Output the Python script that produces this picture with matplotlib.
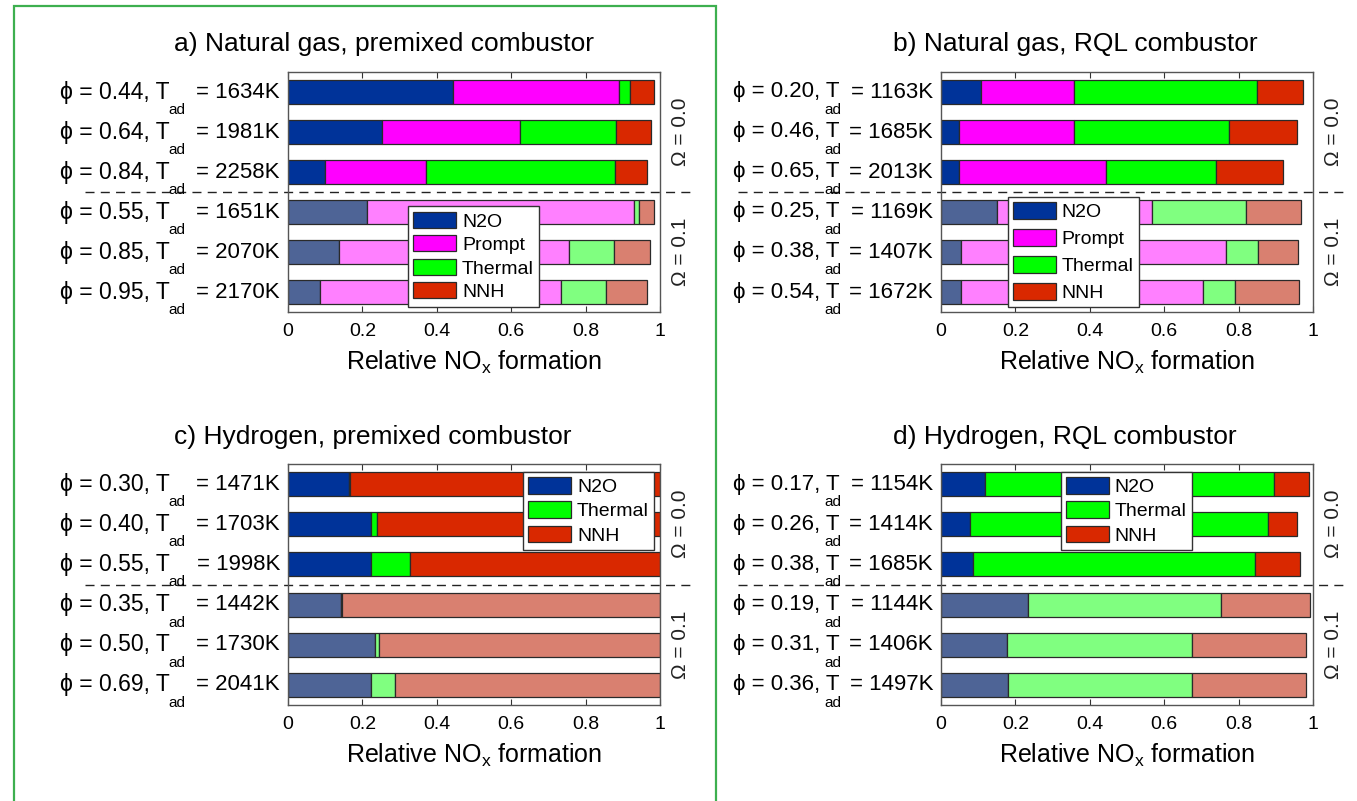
import matplotlib
matplotlib.use('Agg')
import matplotlib.pyplot as plt
from matplotlib.patches import Rectangle, Patch

plt.rcParams['font.family'] = ['Liberation Sans', 'DejaVu Sans']

# ---------------- data ----------------
titles = ['a) Natural gas, premixed combustor', 'b) Natural gas, RQL combustor',
          'c) Hydrogen, premixed combustor', 'd) Hydrogen, RQL combustor']

phi_a = ['0.44', '0.64', '0.84', '0.55', '0.85', '0.95']
tad_a = [1634, 1981, 2258, 1651, 2070, 2170]
phi_b = ['0.20', '0.46', '0.65', '0.25', '0.38', '0.54']
tad_b = [1163, 1685, 2013, 1169, 1407, 1672]
phi_c = ['0.30', '0.40', '0.55', '0.35', '0.50', '0.69']
tad_c = [1471, 1703, 1998, 1442, 1730, 2041]
phi_d = ['0.17', '0.26', '0.38', '0.19', '0.31', '0.36']
tad_d = [1154, 1414, 1685, 1144, 1406, 1497]

n2o_a = [0.443, 0.254, 0.100, 0.212, 0.137, 0.085]
prompt_a = [0.446, 0.370, 0.270, 0.719, 0.618, 0.650]
thermal_a = [0.030, 0.258, 0.509, 0.012, 0.122, 0.121]
nnh_a = [0.064, 0.095, 0.085, 0.040, 0.097, 0.109]

n2o_b = [0.108, 0.048, 0.048, 0.151, 0.055, 0.055]
prompt_b = [0.249, 0.309, 0.396, 0.416, 0.711, 0.648]
thermal_b = [0.492, 0.416, 0.294, 0.253, 0.086, 0.088]
nnh_b = [0.123, 0.183, 0.181, 0.149, 0.108, 0.171]

n2o_c = [0.164, 0.224, 0.224, 0.143, 0.235, 0.222]
thermal_c = [0.002, 0.014, 0.105, 0.003, 0.009, 0.065]
nnh_c = [0.834, 0.762, 0.671, 0.854, 0.756, 0.713]

n2o_d = [0.118, 0.079, 0.087, 0.233, 0.177, 0.179]
thermal_d = [0.776, 0.799, 0.758, 0.520, 0.497, 0.495]
nnh_d = [0.096, 0.079, 0.121, 0.239, 0.307, 0.308]

omega_labels = ['\u03a9 = 0.0', '\u03a9 = 0.1']
xticks = [0, 0.2, 0.4, 0.6, 0.8, 1]
xtick_labels = ['0', '0.2', '0.4', '0.6', '0.8', '1']

# ---------------- styles ----------------
dark = {'N2O': '#003399', 'Prompt': '#ff00ff', 'Thermal': '#00ff00', 'NNH': '#d92800'}
light = {'N2O': '#4e6496', 'Prompt': '#ff80ff', 'Thermal': '#80ff80', 'NNH': '#d98070'}

W, H = 1357, 801
fig = plt.figure(figsize=(W / 100, H / 100), dpi=100)


def make_ax(x0, x1, y0, y1):
    return fig.add_axes([x0 / W, 1 - y1 / H, (x1 - x0) / W, (y1 - y0) / H])


panels = [
    dict(box=(288, 660, 72, 312), title=titles[0], tx=174, ty=44, phi=phi_a, tad=tad_a,
         series=[('N2O', n2o_a), ('Prompt', prompt_a), ('Thermal', thermal_a), ('NNH', nnh_a)],
         leg=dict(loc='upper left', anchor=(0.3226, 0.44), sp=0.25, bp=0.28, hh=0.88),
         lab=dict(start=-228, ad=-120, fs=16.5)),
    dict(box=(941, 1313, 72, 312), title=titles[1], tx=893, ty=44, phi=phi_b, tad=tad_b,
         series=[('N2O', n2o_b), ('Prompt', prompt_b), ('Thermal', thermal_b), ('NNH', nnh_b)],
         leg=dict(loc='upper left', anchor=(0.180, 0.48), sp=0.39, bp=0.26, hh=1.0),
         lab=dict(start=-208, ad=-117, fs=16)),
    dict(box=(288, 660, 464, 705), title=titles[2], tx=174, ty=437, phi=phi_c, tad=tad_c,
         series=[('N2O', n2o_c), ('Thermal', thermal_c), ('NNH', nnh_c)],
         leg=dict(loc='upper right', anchor=(0.984, 0.967), sp=0.27, bp=0.27, hh=0.94),
         lab=dict(start=-228, ad=-120, fs=16.5)),
    dict(box=(941, 1313, 464, 705), title=titles[3], tx=893, ty=437, phi=phi_d, tad=tad_d,
         series=[('N2O', n2o_d), ('Thermal', thermal_d), ('NNH', nnh_d)],
         leg=dict(loc='upper left', anchor=(0.3226, 0.967), sp=0.27, bp=0.27, hh=0.94),
         lab=dict(start=-208, ad=-117, fs=16)),
]

for p in panels:
    ax = make_ax(*p['box'])
    pos = list(range(1, 7))
    left = [0.0] * 6
    handles = []
    for name, vals in p['series']:
        cols = [dark[name] if i < 3 else light[name] for i in range(6)]
        ax.barh(pos, vals, left=left, height=0.6, color=cols, edgecolor='#2a2a2a', linewidth=0.9)
        left = [l + v for l, v in zip(left, vals)]
        handles.append(Patch(facecolor=dark[name], edgecolor='#2a2a2a', linewidth=0.9, label=name))
    ax.set_xlim(0, 1)
    ax.set_ylim(6.5, 0.5)
    ax.set_xticks(xticks)
    ax.set_xticklabels(xtick_labels)
    ax.set_yticks([])
    ax.tick_params(axis='x', top=True, bottom=True, direction='in', length=4,
                   labelsize=14, pad=8, color='#333333')
    for s in ax.spines.values():
        s.set_color('#555555')
        s.set_linewidth(1.0)
    ax.set_xlabel('Relative NO$_\\mathregular{x}$ formation', fontsize=18, labelpad=6)
    ax.plot([-0.546, 1.089], [3.5, 3.5], transform=ax.get_yaxis_transform(), color='#222222',
            lw=1.0, ls=(0, (6.5, 4.5)), clip_on=False)
    ax.text(1.055, 2, omega_labels[0], rotation=90, transform=ax.get_yaxis_transform(),
            ha='center', va='center', fontsize=15, color='#222222')
    ax.text(1.055, 5, omega_labels[1], rotation=90, transform=ax.get_yaxis_transform(),
            ha='center', va='center', fontsize=15, color='#222222')
    lg = p['leg']
    leg = ax.legend(handles=handles, loc=lg['loc'], bbox_to_anchor=lg['anchor'],
                    fontsize=14, frameon=True, fancybox=False, framealpha=1,
                    edgecolor='#333333', handlelength=2.2, handleheight=lg['hh'],
                    handletextpad=0.3, labelspacing=lg['sp'], borderpad=lg['bp'],
                    borderaxespad=0)
    leg.get_frame().set_linewidth(1.0)
    fig.text(p['tx'] / W, 1 - p['ty'] / H, p['title'], fontsize=19, ha='left', va='center')
    ytr = ax.get_yaxis_transform()
    lab = p['lab']
    for i in range(6):
        ax.annotate(f'= {p["tad"][i]}K', xy=(0, pos[i]), xycoords=ytr,
                    xytext=(-8, 0), textcoords='offset pixels', ha='right', va='center',
                    fontsize=16)
        ax.annotate('ad', xy=(0, pos[i]), xycoords=ytr,
                    xytext=(lab['ad'], -18), textcoords='offset pixels', ha='left',
                    va='center', fontsize=11)
        ax.annotate(f'\u03d5 = {p["phi"][i]}, T', xy=(0, pos[i]), xycoords=ytr,
                    xytext=(lab['start'], 0), textcoords='offset pixels', ha='left',
                    va='center', fontsize=lab['fs'])

fig.add_artist(Rectangle((14 / W, -0.02), (716 - 14) / W, (801 - 6) / H + 0.02,
                         transform=fig.transFigure, fill=False, edgecolor='#3daf4f', lw=1.6))

fig.savefig('out.png', dpi=100)
